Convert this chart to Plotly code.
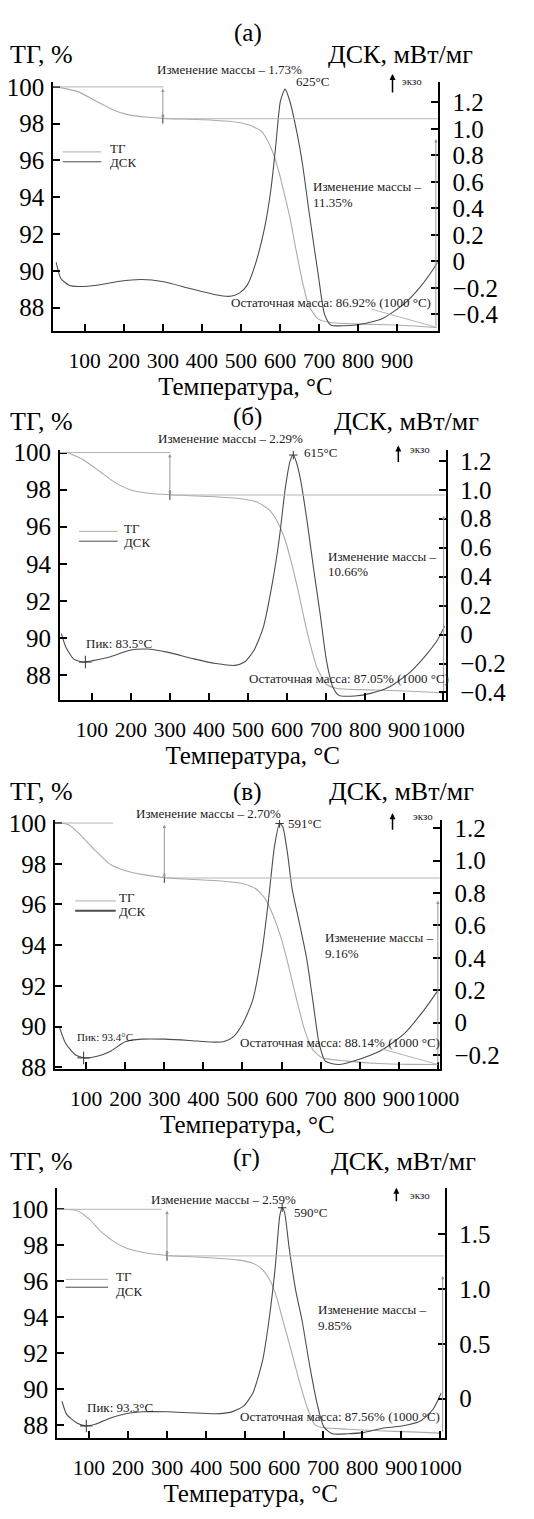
import plotly.graph_objects as go

W, H = 534, 1519
FONT = "Liberation Serif"
TG_COLOR = "#ababab"
DSC_COLOR = "#4d4d4d"
REF_COLOR = "#b5b5b5"

# ---------------- data ----------------
panel_labels = ["(а)", "(б)", "(в)", "(г)"]

# (а)
t_tg_a = [27, 84, 132, 173, 213, 262, 302, 407, 488, 520, 553, 573, 585, 601, 609, 625, 641, 658, 674, 698, 730, 811, 892, 1001]
tg_a = [100.0, 99.73, 99.19, 98.75, 98.48, 98.35, 98.29, 98.21, 98.08, 97.94, 97.58, 96.87, 96.24, 95.07, 94.36, 92.93, 91.13, 89.34, 88.09, 87.37, 87.19, 87.10, 87.05, 86.92]
t_dsc_a = [27, 39, 60, 84, 132, 189, 245, 302, 367, 431, 472, 496, 516, 536, 561, 577, 589, 601, 613, 625, 645, 658, 674, 698, 714, 730, 795, 860, 916, 957, 993, 1003]
dsc_a = [-0.007, -0.13, -0.18, -0.19, -0.18, -0.15, -0.137, -0.154, -0.203, -0.25, -0.264, -0.24, -0.18, -0.03, 0.26, 0.55, 0.87, 1.21, 1.30, 1.21, 0.945, 0.725, 0.38, -0.105, -0.40, -0.48, -0.48, -0.435, -0.325, -0.20, -0.056, -0.007]

# (б)
t_tg_b = [38, 78, 119, 159, 200, 240, 299, 402, 482, 523, 555, 575, 596, 612, 628, 644, 660, 677, 701, 725, 806, 887, 1000]
tg_b = [100.0, 99.61, 99.0, 98.39, 97.98, 97.82, 97.72, 97.63, 97.51, 97.33, 96.89, 96.28, 95.23, 94.0, 92.6, 91.02, 89.61, 88.39, 87.51, 87.30, 87.21, 87.16, 87.05]
t_dsc_b = [22, 34, 54, 78, 102, 143, 200, 240, 296, 361, 418, 466, 491, 515, 539, 563, 580, 596, 608, 616, 624, 636, 652, 668, 685, 701, 717, 733, 774, 814, 863, 911, 951, 984, 1004]
dsc_b = [0.007, -0.09, -0.17, -0.19, -0.18, -0.157, -0.107, -0.10, -0.123, -0.168, -0.20, -0.213, -0.19, -0.11, 0.048, 0.365, 0.66, 1.02, 1.20, 1.24, 1.19, 1.05, 0.77, 0.456, 0.138, -0.18, -0.36, -0.42, -0.424, -0.406, -0.36, -0.27, -0.157, -0.043, 0.06]

# (в)
t_tg_v = [31, 55, 80, 120, 161, 201, 242, 301, 364, 445, 501, 534, 558, 578, 599, 619, 639, 659, 680, 704, 769, 850, 931, 1000]
tg_v = [100.0, 99.92, 99.52, 98.71, 97.98, 97.66, 97.48, 97.32, 97.24, 97.15, 97.02, 96.77, 96.29, 95.48, 94.35, 92.9, 91.29, 89.84, 88.87, 88.47, 88.31, 88.19, 88.15, 88.14]
t_dsc_v = [31, 47, 72, 96, 128, 161, 201, 242, 301, 364, 420, 453, 477, 501, 526, 550, 566, 582, 595, 603, 615, 627, 647, 664, 680, 696, 712, 745, 801, 858, 915, 964, 1000]
dsc_v = [-0.025, -0.127, -0.198, -0.218, -0.208, -0.178, -0.117, -0.102, -0.102, -0.11, -0.12, -0.117, -0.086, -0.005, 0.137, 0.44, 0.745, 1.09, 1.23, 1.21, 1.05, 0.826, 0.6, 0.40, 0.137, -0.127, -0.238, -0.259, -0.224, -0.167, -0.066, 0.076, 0.198]

# (г)
t_tg_g = [35, 68, 100, 132, 165, 197, 237, 301, 399, 480, 520, 545, 565, 581, 597, 618, 638, 658, 678, 698, 763, 844, 925, 1000]
tg_g = [100.0, 99.93, 99.47, 98.74, 98.19, 97.83, 97.61, 97.43, 97.32, 97.19, 97.0, 96.64, 96.0, 95.09, 93.81, 92.16, 90.52, 89.06, 88.05, 87.87, 87.78, 87.69, 87.63, 87.56]
t_dsc_g = [31, 43, 68, 92, 116, 157, 197, 237, 301, 359, 423, 464, 496, 520, 545, 561, 577, 589, 595, 601, 613, 630, 646, 666, 686, 702, 723, 763, 803, 852, 901, 949, 981, 1002]
dsc_g = [-0.024, -0.144, -0.219, -0.249, -0.234, -0.174, -0.135, -0.12, -0.12, -0.129, -0.138, -0.123, -0.069, 0.051, 0.35, 0.71, 1.19, 1.67, 1.74, 1.70, 1.37, 0.98, 0.71, 0.29, -0.069, -0.26, -0.32, -0.32, -0.31, -0.27, -0.25, -0.204, -0.099, 0.05]

# annotation values
mass_change_1 = [1.73, 2.29, 2.70, 2.59]
mass_change_2 = [11.35, 10.66, 9.16, 9.85]
residual_mass = [86.92, 87.05, 88.14, 87.56]
exo_peak_label = [625, 615, 591, 590]
endo_peak_t = [None, 83.5, 93.4, 93.3]
endo_peak_v = [None, -0.19, -0.218, -0.249]
step_t = 300
top_line_end = [302, 301, 169, 286]

# tick labels
x_ticks = [[100, 200, 300, 400, 500, 600, 700, 800, 900],
           [100, 200, 300, 400, 500, 600, 700, 800, 900, 1000],
           [100, 200, 300, 400, 500, 600, 700, 800, 900, 1000],
           [100, 200, 300, 400, 500, 600, 700, 800, 900, 1000]]
tg_ticks = [88, 90, 92, 94, 96, 98, 100]
dsc_ticks = [[-0.4, -0.2, 0, 0.2, 0.4, 0.6, 0.8, 1.0, 1.2],
             [-0.4, -0.2, 0, 0.2, 0.4, 0.6, 0.8, 1.0, 1.2],
             [-0.2, 0, 0.2, 0.4, 0.6, 0.8, 1.0, 1.2],
             [0, 0.5, 1.0, 1.5]]

tg_t = [t_tg_a, t_tg_b, t_tg_v, t_tg_g]
tg_v_all = [tg_a, tg_b, tg_v, tg_g]
dsc_t = [t_dsc_a, t_dsc_b, t_dsc_v, t_dsc_g]
dsc_v_all = [dsc_a, dsc_b, dsc_v, dsc_g]

# ---------------- layout geometry (pixels) ----------------
geom = [
    dict(x0=55, x1=454, y0=73, y1=326, xr=[19, 1004], tgr=[86.71, 100.27], dr=[-0.528, 1.354]),
    dict(x0=62, x1=462, y0=446, y1=700, xr=[18, 1006], tgr=[86.67, 100.16], dr=[-0.451, 1.278]),
    dict(x0=57, x1=456, y0=822, y1=1075, xr=[20, 1005], tgr=[87.90, 100.145], dr=[-0.289, 1.251]),
    dict(x0=59, x1=461, y0=1195, y1=1449, xr=[18, 1011], tgr=[87.29, 101.2], dr=[-0.359, 1.923]),
]


def PX(x):
    return x / W


def PY(y):
    return 1 - y / H


def fmt(v):
    if abs(v) < 1e-9:
        return "0"
    s = f"{abs(v):.1f}"
    return ("\u2212" + s) if v < 0 else s


fig = go.Figure()
layout = {}
annotations = []
shapes = []

texts = [
    dict(title=(257, 23), tg=(8, 45), dsk=(415, 45), mc1=(238, 60), peak=(305, 73),
         exo=(407, 85, 65, 415, 72), leg=(65, 105, 144, 154, 112, 141, 155),
         mc2=(322, 179, 195), pik=None, res=(449, 297)),
    dict(title=(257, 413), tg=(8, 418), dsk=(421, 418), mc1=(239, 435), peak=(313, 449),
         exo=(413, 460, 442, 423, 445), leg=(82, 122, 529, 539, 127, 526, 540),
         mc2=(338, 555, 570), pik=(87, 643, 13), res=(468, 678)),
    dict(title=(256, 793), tg=(8, 793), dsk=(416, 793), mc1=(216, 815), peak=(297, 825),
         exo=(407, 833, 815, 426, 818), leg=(78, 120, 904, 914, 121, 901, 915),
         mc2=(335, 941, 957), pik=(78, 1042, 11), res=(458, 1048)),
    dict(title=(256, 1165), tg=(8, 1168), dsk=(418, 1168), mc1=(232, 1207), peak=(303, 1220),
         exo=(411, 1210, 1195, 423, 1202), leg=(68, 112, 1288, 1296, 118, 1285, 1300),
         mc2=(328, 1319, 1335), pik=(88, 1418, 13), res=(458, 1427)),
]

ytick_font = dict(family=FONT, size=25, color="black")
title_font = dict(family=FONT, size=25, color="black")

for i in range(4):
    g = geom[i]
    xid = "x" if i == 0 else f"x{i+1}"
    xkey = "xaxis" if i == 0 else f"xaxis{i+1}"
    ytg = "y" if i == 0 else f"y{2*i+1}"
    ytgkey = "yaxis" if i == 0 else f"yaxis{2*i+1}"
    yd = f"y{2*i+2}"
    ydkey = f"yaxis{2*i+2}"

    layout[xkey] = dict(
        domain=[PX(g["x0"]), PX(g["x1"])], range=g["xr"], anchor=ytg,
        showline=True, linecolor="black", linewidth=2, mirror=False,
        ticks="inside", ticklen=7, tickwidth=1.5, tickcolor="black",
        tickvals=x_ticks[i], ticktext=[str(v) for v in x_ticks[i]], tickangle=0,
        tickfont=dict(family=FONT, size=21.5, color="black"), ticklabelstandoff=9,
        showgrid=False, zeroline=False,
        title=dict(text="Температура, °C", font=title_font, standoff=4),
    )
    layout[ytgkey] = dict(
        domain=[PY(g["y1"]), PY(g["y0"])], range=g["tgr"], anchor=xid, side="left",
        showline=True, linecolor="black", linewidth=1.5,
        ticks="inside", ticklen=7, tickwidth=1.5, tickcolor="black",
        tickvals=tg_ticks, ticktext=[str(v) for v in tg_ticks],
        tickfont=ytick_font, ticklabelstandoff=2,
        showgrid=False, zeroline=False,
    )
    layout[ydkey] = dict(
        domain=[PY(g["y1"]), PY(g["y0"])], range=g["dr"], anchor=xid, side="right",
        overlaying=ytg,
        showline=True, linecolor="black", linewidth=1.5,
        ticks="inside", ticklen=7, tickwidth=1.5, tickcolor="black",
        tickvals=dsc_ticks[i], ticktext=[fmt(v) for v in dsc_ticks[i]],
        tickfont=ytick_font, ticklabelstandoff=8,
        showgrid=False, zeroline=False,
    )

    # curves
    fig.add_trace(go.Scatter(x=tg_t[i], y=tg_v_all[i], mode="lines", xaxis=xid, yaxis=ytg,
                             line=dict(color=TG_COLOR, width=1.1, shape="spline", smoothing=0.6),
                             name="ТГ", showlegend=False))
    fig.add_trace(go.Scatter(x=dsc_t[i], y=dsc_v_all[i], mode="lines", xaxis=xid, yaxis=yd,
                             line=dict(color=DSC_COLOR, width=1.1, shape="spline", smoothing=0.6),
                             name="ДСК", showlegend=False))

    step_end = 100 - mass_change_1[i]
    # reference lines
    shapes.append(dict(type="line", xref=xid, yref=ytg, x0=g["xr"][0], x1=top_line_end[i],
                       y0=100, y1=100, line=dict(color=REF_COLOR, width=1)))
    shapes.append(dict(type="line", xref=xid, yref=ytg, x0=step_t, x1=g["xr"][1],
                       y0=step_end, y1=step_end, line=dict(color=REF_COLOR, width=1)))
    # double arrow for first mass loss
    annotations.append(dict(x=step_t, y=step_end, ax=step_t, ay=100, xref=xid, yref=ytg,
                            axref=xid, ayref=ytg, text="", showarrow=True,
                            arrowhead=2, startarrowhead=2, arrowside="end+start",
                            arrowsize=0.7, arrowwidth=1, arrowcolor="#999999"))
    # arrow for second mass loss at the right edge
    annotations.append(dict(x=g["xr"][1] - 5, y=step_end - 1.1, ax=g["xr"][1] - 5, ay=residual_mass[i],
                            xref=xid, yref=ytg, axref=xid, ayref=ytg, text="", showarrow=True,
                            arrowhead=2, arrowsize=0.7, arrowwidth=1, arrowcolor="#999999"))
    # step marker
    fig.add_trace(go.Scatter(x=[step_t], y=[step_end], mode="markers", xaxis=xid, yaxis=ytg,
                             marker=dict(symbol="line-ns", size=7, line=dict(color="#333333", width=1)),
                             showlegend=False, hoverinfo="skip"))
    # peak marker
    k = dsc_v_all[i].index(max(dsc_v_all[i]))
    if i > 0:
        fig.add_trace(go.Scatter(x=[dsc_t[i][k]], y=[dsc_v_all[i][k]], mode="markers", xaxis=xid, yaxis=yd,
                                 marker=dict(symbol="cross-thin", size=6, line=dict(color="#333333", width=1)),
                                 showlegend=False, hoverinfo="skip"))
    if endo_peak_t[i] is not None:
        fig.add_trace(go.Scatter(x=[endo_peak_t[i]], y=[endo_peak_v[i]], mode="markers", xaxis=xid, yaxis=yd,
                                 marker=dict(symbol="cross-thin", size=9, line=dict(color="#333333", width=1)),
                                 showlegend=False, hoverinfo="skip"))

    tx = texts[i]
    small = dict(family=FONT, size=13, color="#222222")
    annotations.append(dict(x=PX(tx["title"][0]), y=PY(tx["title"][1]), xref="paper", yref="paper",
                            text=panel_labels[i], showarrow=False, font=dict(family=FONT, size=25, color="black"),
                            xanchor="center", yanchor="middle"))
    annotations.append(dict(x=PX(tx["tg"][0]), y=PY(tx["tg"][1]), xref="paper", yref="paper",
                            text="ТГ, %", showarrow=False, font=dict(family=FONT, size=26, color="black"),
                            xanchor="left", yanchor="middle"))
    annotations.append(dict(x=PX(tx["dsk"][0]), y=PY(tx["dsk"][1]), xref="paper", yref="paper",
                            text="ДСК, мВт/мг", showarrow=False, font=dict(family=FONT, size=26, color="black"),
                            xanchor="center", yanchor="middle"))
    annotations.append(dict(x=PX(tx["mc1"][0]), y=PY(tx["mc1"][1]), xref="paper", yref="paper",
                            text=f"Изменение массы – {mass_change_1[i]:.2f}%", showarrow=False, font=small,
                            xanchor="center", yanchor="middle"))
    annotations.append(dict(x=PX(tx["peak"][0]), y=PY(tx["peak"][1]), xref="paper", yref="paper",
                            text=f"{exo_peak_label[i]}°C", showarrow=False, font=small,
                            xanchor="left", yanchor="middle"))
    ex = tx["exo"]
    annotations.append(dict(x=PX(ex[0]), y=PY(ex[2]), ax=0, ay=ex[1] - ex[2], xref="paper", yref="paper",
                            text="", showarrow=True, arrowhead=2,
                            arrowsize=0.8, arrowwidth=1.5, arrowcolor="black"))
    annotations.append(dict(x=PX(ex[3]), y=PY(ex[4]), xref="paper", yref="paper", text="экзо",
                            showarrow=False, font=dict(family=FONT, size=11, color="#222222"),
                            xanchor="left", yanchor="middle"))
    lg = tx["leg"]
    shapes.append(dict(type="line", xref="paper", yref="paper", x0=PX(lg[0]), x1=PX(lg[1]),
                       y0=PY(lg[2]), y1=PY(lg[2]), line=dict(color=TG_COLOR, width=1)))
    shapes.append(dict(type="line", xref="paper", yref="paper", x0=PX(lg[0]), x1=PX(lg[1]),
                       y0=PY(lg[3]), y1=PY(lg[3]), line=dict(color=DSC_COLOR, width=2 if i == 2 else 1)))
    annotations.append(dict(x=PX(lg[4]), y=PY(lg[5]), xref="paper", yref="paper", text="ТГ",
                            showarrow=False, font=dict(family=FONT, size=13, color="#222222"),
                            xanchor="left", yanchor="middle"))
    annotations.append(dict(x=PX(lg[4]), y=PY(lg[6]), xref="paper", yref="paper", text="ДСК",
                            showarrow=False, font=dict(family=FONT, size=13, color="#222222"),
                            xanchor="left", yanchor="middle"))
    m2 = tx["mc2"]
    annotations.append(dict(x=PX(m2[0]), y=PY(m2[1]), xref="paper", yref="paper", text="Изменение массы –",
                            showarrow=False, font=small, xanchor="left", yanchor="middle"))
    annotations.append(dict(x=PX(m2[0]), y=PY(m2[2]), xref="paper", yref="paper",
                            text=f"{mass_change_2[i]:.2f}%", showarrow=False, font=small,
                            xanchor="left", yanchor="middle"))
    if tx["pik"] is not None:
        pk = tx["pik"]
        annotations.append(dict(x=PX(pk[0]), y=PY(pk[1]), xref="paper", yref="paper",
                                text=f"Пик: {endo_peak_t[i]}°C", showarrow=False,
                                font=dict(family=FONT, size=pk[2], color="#222222"),
                                xanchor="left", yanchor="middle"))
    rs = tx["res"]
    annotations.append(dict(x=PX(rs[0]), y=PY(rs[1]), xref="paper", yref="paper",
                            text=f"Остаточная масса: {residual_mass[i]:.2f}% (1000 °C)", showarrow=False,
                            font=small, xanchor="right", yanchor="middle"))

# leader lines to residual mass (panels а and в)
shapes.append(dict(type="line", xref="x", yref="y", x0=835, y0=87.91, x1=1001, y1=residual_mass[0],
                   line=dict(color=REF_COLOR, width=1)))
shapes.append(dict(type="line", xref="x3", yref="y5", x0=858, y0=88.9, x1=1000, y1=residual_mass[2],
                   line=dict(color=REF_COLOR, width=1)))

layout.update(dict(
    width=W, height=H, margin=dict(l=0, r=0, t=0, b=0),
    paper_bgcolor="white", plot_bgcolor="white",
    showlegend=False, annotations=annotations, shapes=shapes,
    font=dict(family=FONT, color="black"),
))
fig.update_layout(**layout)
fig.write_html("out.html", config={"displayModeBar": False},
               post_script="document.body.style.margin='0px';")
